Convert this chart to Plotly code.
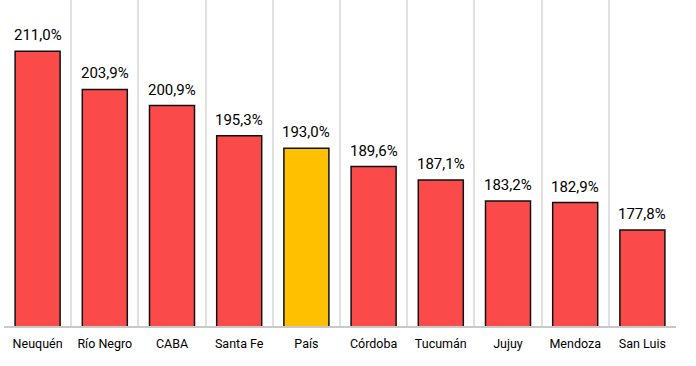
import plotly.graph_objects as go

categories = ["Neuquén", "Río Negro", "CABA", "Santa Fe", "País", "Córdoba", "Tucumán", "Jujuy", "Mendoza", "San Luis"]
values = [211.0, 203.9, 200.9, 195.3, 193.0, 189.6, 187.1, 183.2, 182.9, 177.8]
highlight = "País"

colors = ["#FFC000" if c == highlight else "#FA4A4A" for c in categories]
labels = [f"{v:.1f}%".replace(".", ",") for v in values]

fig = go.Figure(go.Bar(
    x=categories, y=values, marker=dict(color=colors, line=dict(color="#111111", width=1.5)),
    width=0.67, hoverinfo="x+y",
))
for c, v, t in zip(categories, values, labels):
    fig.add_annotation(x=c, y=v, text=t, showarrow=False, yanchor="bottom", yshift=5,
                       font=dict(family="Roboto, Noto Sans, sans-serif", size=15, color="#000000"))
fig.update_layout(
    width=696, height=366, margin=dict(l=4, r=20, t=0, b=40, autoexpand=False),
    paper_bgcolor="white", plot_bgcolor="white", showlegend=False,
    font=dict(family="Roboto, Noto Sans, sans-serif"),
    xaxis=dict(tickson="boundaries", showgrid=True, gridcolor="#E0E0E0", gridwidth=2,
               showline=True, linecolor="#C8C8C8", linewidth=2, ticks="", automargin=False,
               ticklabelstandoff=5, tickfont=dict(size=12.5, color="#000000")),
    yaxis=dict(range=[160, 220.5], visible=False, showgrid=False, automargin=False),
    bargap=0.33,
)
fig.write_html("out.html", config={"displayModeBar": False})
with open("out.html", encoding="utf-8") as f:
    html = f.read()
html = html.replace("<body>", '<body style="margin:0;padding:0">', 1)
with open("out.html", "w", encoding="utf-8") as f:
    f.write(html)
